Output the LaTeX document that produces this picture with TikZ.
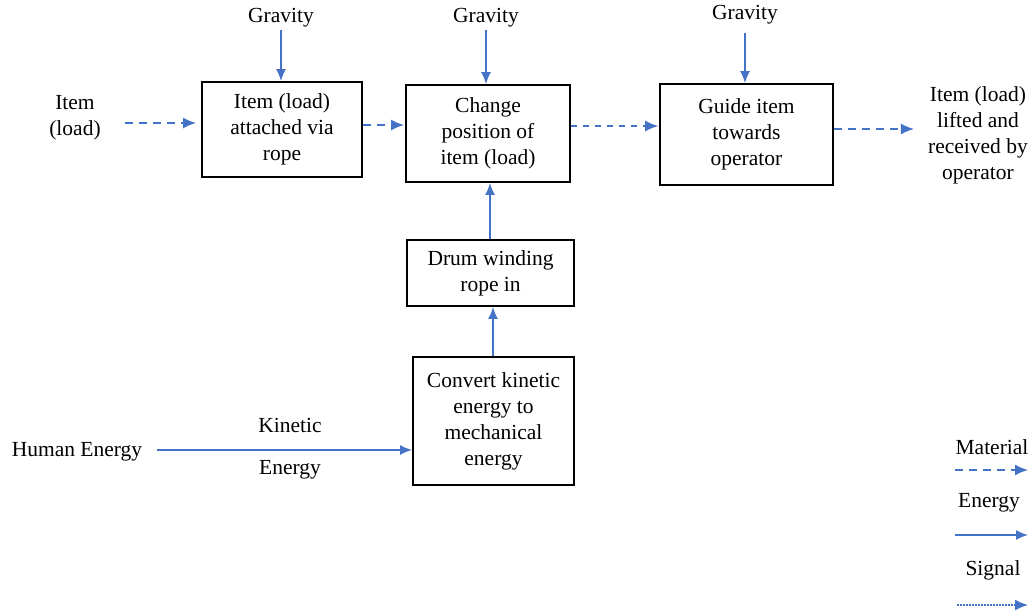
\documentclass[tikz,border=0pt]{standalone}
\usepackage{fontspec}
\setmainfont{Liberation Serif}
\usetikzlibrary{arrows.meta}
\definecolor{flowblue}{RGB}{68,114,196}
\tikzset{
  fbox/.style={draw=black, line width=1.8pt, align=center, inner sep=2pt},
  lbl/.style={align=center, inner sep=2pt},
  material/.style={draw=flowblue, line width=1.7pt, dash pattern=on 8pt off 6pt, -{Latex[length=13pt,width=11pt]}},
  materialthin/.style={draw=flowblue, line width=1.2pt, dash pattern=on 6pt off 6pt, -{Latex[length=13pt,width=11pt]}},
  energy/.style={draw=flowblue, line width=1.7pt, -{Latex[length=12pt,width=10pt]}},
  signal/.style={draw=flowblue, line width=1.5pt, dash pattern=on 1.5pt off 1.5pt, -{Latex[length=13pt,width=11pt]}}
}
\begin{document}
\begin{tikzpicture}[x=1pt, y=-1pt, font=\fontsize{21.5}{26}\selectfont]
	\useasboundingbox (0,0) rectangle (1033,614);

	% function boxes
	\node[fbox, minimum width=160pt, minimum height=95pt] (attach) at (282,129.5) {Item (load)\\attached via\\rope};
	\node[fbox, minimum width=164pt, minimum height=97pt] (change) at (488,133.5) {Change\\position of\\item (load)};
	\node[fbox, minimum width=173pt, minimum height=101pt] (guide) at (746.5,134.5) {Guide item\\towards\\operator};
	\node[fbox, minimum width=167pt, minimum height=66pt] (drum) at (490.5,273) {Drum winding\\rope in};
	\node[fbox, minimum width=161pt, minimum height=128pt] (convert) at (493.5,421) {Convert kinetic\\energy to\\mechanical\\energy};

	% inputs and outputs
	\node[lbl] (item) at (75,118) {Item\\(load)};
	\node[lbl] (lifted) at (978,135) {Item (load)\\lifted and\\received by\\operator};
	\node[lbl] (grav1) at (281,18) {Gravity};
	\node[lbl] (grav2) at (486,18) {Gravity};
	\node[lbl] (grav3) at (745,15) {Gravity};
	\node[lbl] (human) at (77,452) {Human Energy};
	\node[lbl] (kin) at (290,425) {Kinetic};
	\node[lbl] (ken) at (290,470) {Energy};

	\draw[material, shorten <=22pt, shorten >=5pt] (item.east |- 0,123) -- (attach.west |- 0,123);
	\draw[material, shorten >=1pt] (attach.east |- 0,125) -- (change.west |- 0,125);
	\draw[materialthin, shorten >=1pt] (change.east |- 0,126) -- (guide.west |- 0,126);
	\draw[material, shorten >=12pt] (guide.east |- 0,129) -- (lifted.west |- 0,129);

	\draw[energy] (grav1.south) -- (grav1.south |- attach.north);
	\draw[energy] (grav2.south) -- (grav2.south |- change.north);
	\draw[energy, shorten <=6pt] (grav3.south) -- (grav3.south |- guide.north);
	\draw[energy] (490,0 |- drum.north) -- (490,0 |- change.south);
	\draw[energy] (493,0 |- convert.north) -- (493,0 |- drum.south);
	\draw[energy, shorten <=13pt] (human.east |- 0,450) -- (convert.west |- 0,450);

	% legend
	\node[lbl] (legmat) at (992,447) {Material};
	\node[lbl] (legen) at (989,503) {Energy};
	\node[lbl] (legsig) at (993,570) {Signal};
	\coordinate (m1) at (955,470); \coordinate (m2) at (1028,470);
	\coordinate (e1) at (955,535); \coordinate (e2) at (1028,535);
	\coordinate (s1) at (957,605); \coordinate (s2) at (1028,605);
	\draw[material] (m1) -- (m2);
	\draw[energy] (e1) -- (e2);
	\draw[signal] (s1) -- (s2);
\end{tikzpicture}
\end{document}
